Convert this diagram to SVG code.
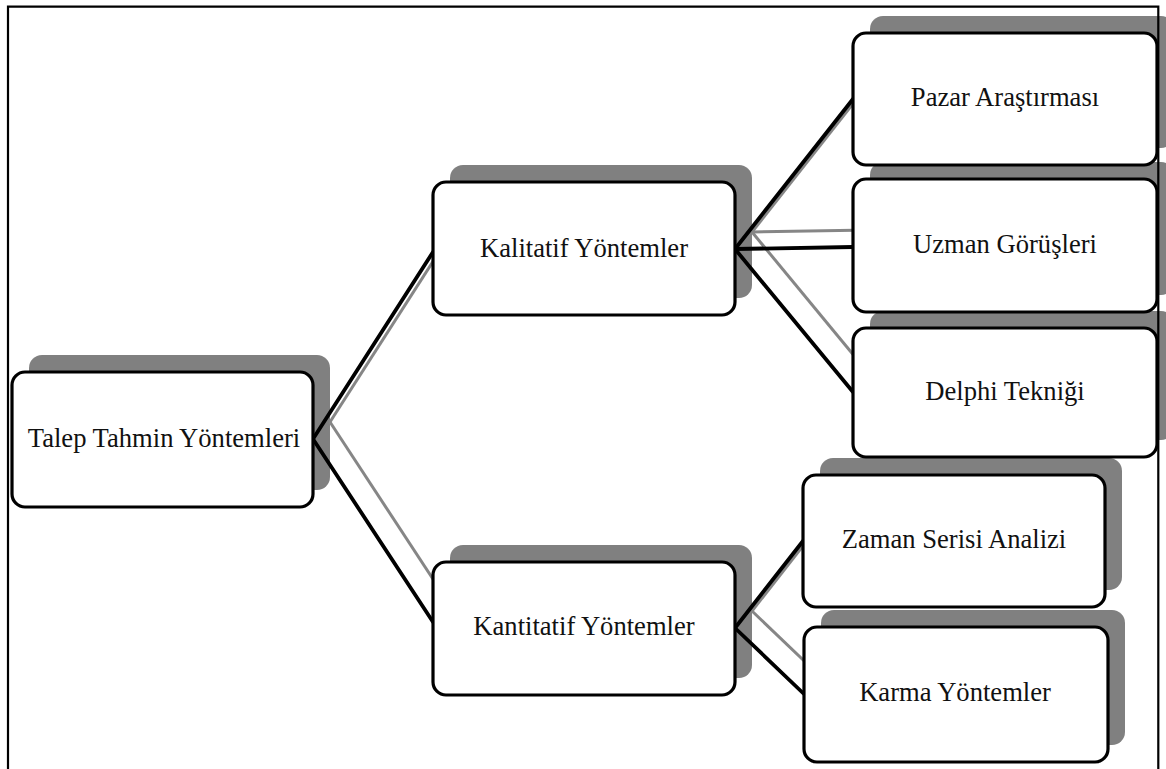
<svg xmlns="http://www.w3.org/2000/svg" xmlns:xlink="http://www.w3.org/1999/xlink" width="1166" height="769" viewBox="0 0 1166 769">
  <style>
    .shadow { fill: #808080; stroke: none; }
    .box { fill: #ffffff; stroke: #000000; stroke-width: 3.2; }
    .link { fill: none; stroke: #000000; stroke-width: 3.8; stroke-linecap: round; }
    .link-shadow { fill: none; stroke: #868686; stroke-width: 3; }
    .frame { fill: none; stroke: #000000; stroke-width: 2.2; }
    text { font-family: "Liberation Serif", "Times New Roman", serif; font-size: 26.6px; fill: #111111; text-anchor: middle; }
  </style>
  <defs>
    <!-- box outlines, shared by the boxes and their drop shadows -->
    <rect id="r-talep" x="12" y="372" width="301" height="135" rx="13"/>
    <rect id="r-kalitatif" x="433" y="182" width="302" height="133" rx="13"/>
    <rect id="r-kantitatif" x="433" y="562" width="302" height="133" rx="13"/>
    <rect id="r-pazar" x="853" y="33" width="304" height="132" rx="13"/>
    <rect id="r-uzman" x="853" y="179" width="304" height="133" rx="13"/>
    <rect id="r-delphi" x="853" y="328" width="304" height="129" rx="13"/>
    <rect id="r-zaman" x="803" y="475" width="302" height="132" rx="13"/>
    <rect id="r-karma" x="804" y="627" width="304" height="135" rx="13"/>
    <!-- connector geometry -->
    <path id="c-talep-kalitatif" d="M313,439 L433,252"/>
    <path id="c-talep-kantitatif" d="M313,439 L433,622"/>
    <path id="c-kalitatif-pazar" d="M735,249 L853,99"/>
    <path id="c-kalitatif-uzman" d="M735,249 L853,247"/>
    <path id="c-kalitatif-delphi" d="M735,249 L853,392"/>
    <path id="c-kantitatif-zaman" d="M735,628 L803,541"/>
    <path id="c-kantitatif-karma" d="M735,628 L804,694"/>
  </defs>

  <!-- drop shadows, offset up and to the right -->
  <g id="shadows" transform="translate(17,-17)">
    <use xlink:href="#r-talep" class="shadow"/>
    <use xlink:href="#r-kalitatif" class="shadow"/>
    <use xlink:href="#r-kantitatif" class="shadow"/>
    <use xlink:href="#r-pazar" class="shadow"/>
    <use xlink:href="#r-uzman" class="shadow"/>
    <use xlink:href="#r-delphi" class="shadow"/>
    <use xlink:href="#r-zaman" class="shadow"/>
    <use xlink:href="#r-karma" class="shadow"/>
    <use xlink:href="#c-talep-kalitatif" class="link-shadow"/>
    <use xlink:href="#c-talep-kantitatif" class="link-shadow"/>
    <use xlink:href="#c-kalitatif-pazar" class="link-shadow"/>
    <use xlink:href="#c-kalitatif-uzman" class="link-shadow"/>
    <use xlink:href="#c-kalitatif-delphi" class="link-shadow"/>
    <use xlink:href="#c-kantitatif-zaman" class="link-shadow"/>
    <use xlink:href="#c-kantitatif-karma" class="link-shadow"/>
  </g>

  <!-- connectors -->
  <g id="connectors">
    <use xlink:href="#c-talep-kalitatif" class="link"/>
    <use xlink:href="#c-talep-kantitatif" class="link"/>
    <use xlink:href="#c-kalitatif-pazar" class="link"/>
    <use xlink:href="#c-kalitatif-uzman" class="link"/>
    <use xlink:href="#c-kalitatif-delphi" class="link"/>
    <use xlink:href="#c-kantitatif-zaman" class="link"/>
    <use xlink:href="#c-kantitatif-karma" class="link"/>
  </g>

  <!-- nodes -->
  <g id="node-talep">
    <use xlink:href="#r-talep" class="box"/>
    <text x="164" y="447">Talep Tahmin Yöntemleri</text>
  </g>
  <g id="node-kalitatif">
    <use xlink:href="#r-kalitatif" class="box"/>
    <text x="584" y="257">Kalitatif Yöntemler</text>
  </g>
  <g id="node-kantitatif">
    <use xlink:href="#r-kantitatif" class="box"/>
    <text x="584" y="635">Kantitatif Yöntemler</text>
  </g>
  <g id="node-pazar">
    <use xlink:href="#r-pazar" class="box"/>
    <text x="1005" y="106">Pazar Araştırması</text>
  </g>
  <g id="node-uzman">
    <use xlink:href="#r-uzman" class="box"/>
    <text x="1005" y="253">Uzman Görüşleri</text>
  </g>
  <g id="node-delphi">
    <use xlink:href="#r-delphi" class="box"/>
    <text x="1005" y="400">Delphi Tekniği</text>
  </g>
  <g id="node-zaman">
    <use xlink:href="#r-zaman" class="box"/>
    <text x="954" y="548">Zaman Serisi Analizi</text>
  </g>
  <g id="node-karma">
    <use xlink:href="#r-karma" class="box"/>
    <text x="955" y="701">Karma Yöntemler</text>
  </g>

  <!-- page frame (open at the bottom) -->
  <path id="frame" class="frame" d="M8,769 L8,6.7 L1158.3,6.7 L1158.3,769"/>
</svg>
